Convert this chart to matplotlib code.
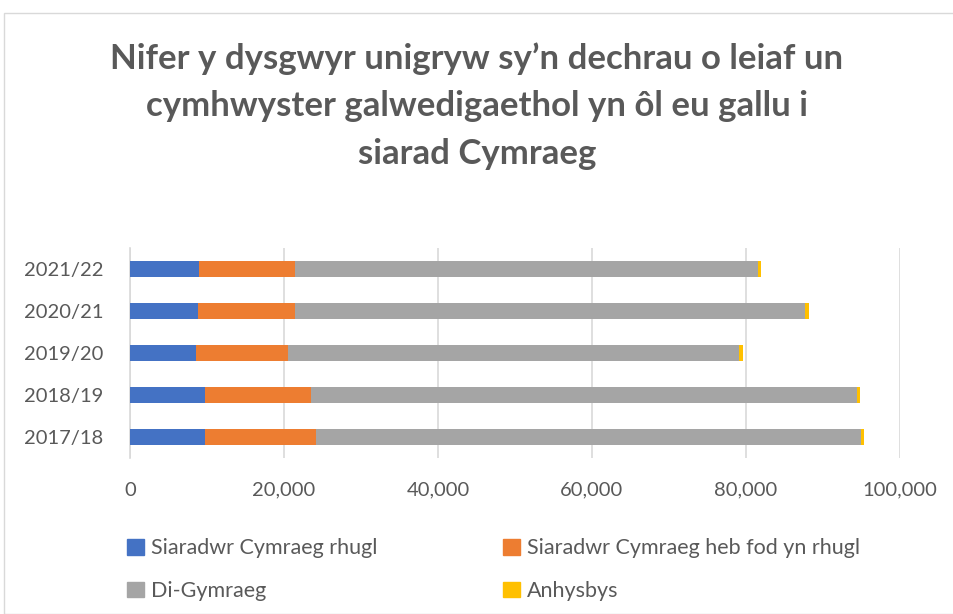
import matplotlib.pyplot as plt
from matplotlib.patches import Rectangle, Patch
from matplotlib.ticker import FuncFormatter

years = ['2017/18', '2018/19', '2019/20', '2020/21', '2021/22']
rhugl = [9800, 9700, 8600, 8800, 8950]
heb_fod = [14400, 13800, 11900, 12600, 12450]
di_gymraeg = [70700, 70900, 58600, 66300, 60100]
anhysbys = [400, 350, 450, 500, 500]

labels = ['Siaradwr Cymraeg rhugl', 'Siaradwr Cymraeg heb fod yn rhugl',
          'Di-Gymraeg', 'Anhysbys']
colors = ['#4472c4', '#ed7d31', '#a5a5a5', '#ffc000']

plt.rcParams['font.family'] = ['Lato', 'DejaVu Sans']

W, H = 954, 614
fig = plt.figure(figsize=(W / 100, H / 100), dpi=100)

# chart border
fig.patches.append(Rectangle((4 / W, 0), 1, 1 - 13 / H, transform=fig.transFigure,
                             fill=False, edgecolor='#d9d9d9', linewidth=1))

ax = fig.add_axes([130 / W, 1 - 458 / H, 770 / W, 210 / H])

left = [0] * len(years)
for vals, c in zip([rhugl, heb_fod, di_gymraeg, anhysbys], colors):
    ax.barh(years, vals, left=left, height=0.4, color=c, zorder=3)
    left = [a + b for a, b in zip(left, vals)]

ax.set_xlim(0, 100000)
ax.set_ylim(-0.5, 4.5)
ax.set_xticks(range(0, 100001, 20000))
ax.xaxis.set_major_formatter(FuncFormatter(lambda v, p: f'{int(v):,}'))
ax.grid(axis='x', color='#d9d9d9', linewidth=1.2, zorder=0)
for s in ['top', 'right', 'bottom']:
    ax.spines[s].set_visible(False)
ax.spines['left'].set_color('#d9d9d9')
ax.spines['left'].set_linewidth(1.2)
ax.tick_params(axis='both', length=0, labelsize=14.5, labelcolor='#595959')
ax.tick_params(axis='x', pad=17)
ax.tick_params(axis='y', pad=19)

fig.text(0.5, 1 - 106 / H,
         'Nifer y dysgwyr unigryw sy\u2019n dechrau o leiaf un\n'
         'cymhwyster galwedigaethol yn \u00f4l eu gallu i\nsiarad Cymraeg',
         ha='center', va='center', fontsize=25, fontweight='bold',
         color='#595959', linespacing=1.6)

handles = [Patch(color=c) for c in colors]
order = [0, 2, 1, 3]
fig.legend([handles[i] for i in order], [labels[i] for i in order],
           loc='upper left', bbox_to_anchor=(108 / W, 1 - 519 / H), ncol=2,
           frameon=False, fontsize=15.5, labelcolor='#595959',
           handlelength=0.75, handleheight=0.75, handletextpad=0.35,
           columnspacing=5.85, labelspacing=1.05)

plt.savefig('out.png', dpi=100)
